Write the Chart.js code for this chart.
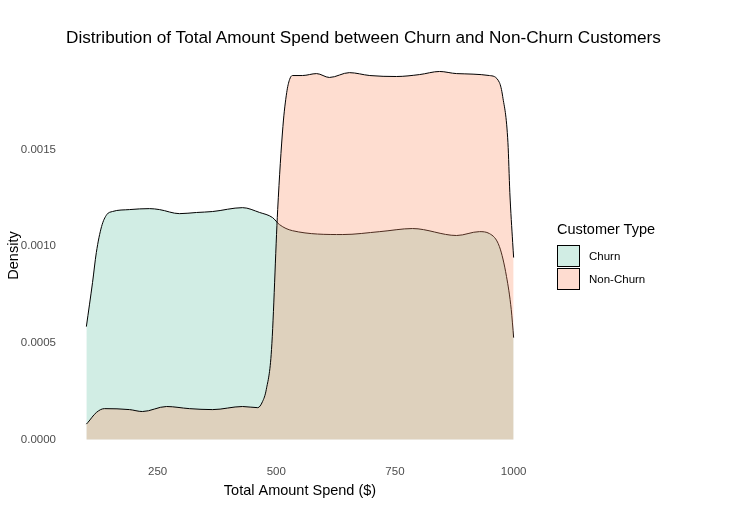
<!DOCTYPE html>
<html>
<head>
<meta charset="utf-8">
<script src="https://cdn.jsdelivr.net/npm/chart.js@4"></script>
<style>
  body { margin: 0; background: #ffffff; font-family: "Liberation Sans", Arial, sans-serif; }
  .wrap { position: relative; width: 747px; height: 520px; }
  .chart-title { position: absolute; left: 66px; top: 27px; font-size: 17.2px; line-height: 20px; color: #000; white-space: nowrap; }
  .legend { position: absolute; left: 557px; top: 219px; }
  .legend-title { font-size: 14.5px; color: #000; height: 25px; line-height: 20px; }
  .legend-item { display: flex; align-items: center; height: 23px; }
  .legend-color { width: 21px; height: 20px; border: 1px solid #000; box-sizing: content-box; }
  .legend-text { font-size: 11.5px; color: #000; margin-left: 9px; }
</style>
</head>
<body>
<div class="wrap">
  <canvas id="density-chart" width="747" height="520"></canvas>
  <div class="chart-title">Distribution of Total Amount Spend between Churn and Non-Churn Customers</div>
  <div class="legend" id="legend"></div>
</div>
<script>
// Density curves
const churnX = [100, 113, 121, 132, 143, 155, 191, 233, 254, 296, 332, 366, 429, 465, 492, 507, 534, 640, 718, 787, 880, 928, 949, 970, 985, 995, 1000];
const churnY = [0.000584, 0.000812, 0.000967, 0.001101, 0.001163, 0.001179, 0.001189, 0.001194, 0.001189, 0.001168, 0.001174, 0.001179, 0.001199, 0.001174, 0.001148, 0.001111, 0.00108, 0.00106, 0.001075, 0.001091, 0.001055, 0.001075, 0.001065, 0.000998, 0.000843, 0.000672, 0.000527];

const nonChurnX = [100, 103, 121, 138, 191, 218, 269, 317, 366, 429, 461, 471, 479, 490, 503, 514, 522, 528, 534, 555, 585, 612, 654, 697, 753, 802, 844, 880, 949, 970, 977, 988, 992, 998, 1000];
const nonChurnY = [0.00008, 0.000088, 0.00014, 0.00016, 0.000155, 0.000145, 0.000171, 0.00016, 0.000155, 0.000171, 0.000165, 0.000196, 0.000259, 0.000465, 0.001189, 0.001618, 0.001794, 0.001861, 0.001882, 0.001882, 0.001892, 0.001872, 0.001897, 0.001882, 0.001877, 0.001887, 0.001903, 0.001892, 0.001882, 0.001846, 0.001773, 0.001535, 0.001277, 0.001018, 0.000941];

const xTicks = [250, 500, 750, 1000];
const yTicks = [0, 0.0005, 0.001, 0.0015];

const SERIES = [
  { label: "Churn", xs: churnX, ys: churnY, fill: "rgba(102, 194, 165, 0.3)", swatch: "#d1ede4", order: 2 },
  { label: "Non-Churn", xs: nonChurnX, ys: nonChurnY, fill: "rgba(252, 141, 98, 0.3)", swatch: "#fedcd0", order: 1 },
];

const toPoints = (xs, ys) => xs.map((x, i) => ({ x: x, y: ys[i] }));

const data = {
  datasets: SERIES.map((s) => ({
    label: s.label,
    data: toPoints(s.xs, s.ys),
    backgroundColor: s.fill,
    borderColor: "#000000",
    borderWidth: 1,
    fill: "origin",
    pointRadius: 0,
    cubicInterpolationMode: "monotone",
    order: s.order,
  })),
};

const tickFont = { family: "'Liberation Sans', Arial", size: 11.5 };
const titleFont = { family: "'Liberation Sans', Arial", size: 14.5 };

const config = {
  type: "line",
  data: data,
  options: {
    responsive: false,
    animation: false,
    layout: { padding: { left: 0, right: 212, top: 53, bottom: 0 } },
    plugins: {
      legend: { display: false }, // custom legend instead
      tooltip: { enabled: false },
      title: { display: false }, // title is drawn as html above the canvas
    },
    scales: {
      x: {
        type: "linear",
        min: 55,
        max: 1045,
        grid: { display: false, drawTicks: false },
        border: { display: false },
        afterFit: (scale) => { scale.height = 62; },
        afterBuildTicks: (scale) => { scale.ticks = xTicks.map((v) => ({ value: v })); },
        ticks: { color: "#4d4d4d", font: tickFont, padding: 7, maxRotation: 0, callback: (v) => String(v) },
        title: { display: true, text: "Total Amount Spend ($)", color: "#000000", font: titleFont, padding: { top: 0, bottom: 20 } },
      },
      y: {
        type: "linear",
        min: -0.0000952,
        max: 0.0019985,
        grid: { display: false, drawTicks: false },
        border: { display: false },
        afterFit: (scale) => { scale.width = 65; },
        afterBuildTicks: (scale) => { scale.ticks = yTicks.map((v) => ({ value: v })); },
        ticks: { color: "#4d4d4d", font: tickFont, padding: 9, callback: (v) => v.toFixed(4) },
        title: { display: true, text: "Density", color: "#000000", font: titleFont, padding: { top: 5, bottom: 0 } },
      },
    },
  },
};

new Chart(document.getElementById("density-chart"), config);

const renderLegend = (container) => {
  container.innerHTML =
    `<div class="legend-title">Customer Type</div>` +
    SERIES.map((s) => `
      <div class="legend-item">
        <div class="legend-color" style="background-color: ${s.swatch}"></div>
        <span class="legend-text">${s.label}</span>
      </div>`).join("");
};

renderLegend(document.getElementById("legend"));
</script>
</body>
</html>
